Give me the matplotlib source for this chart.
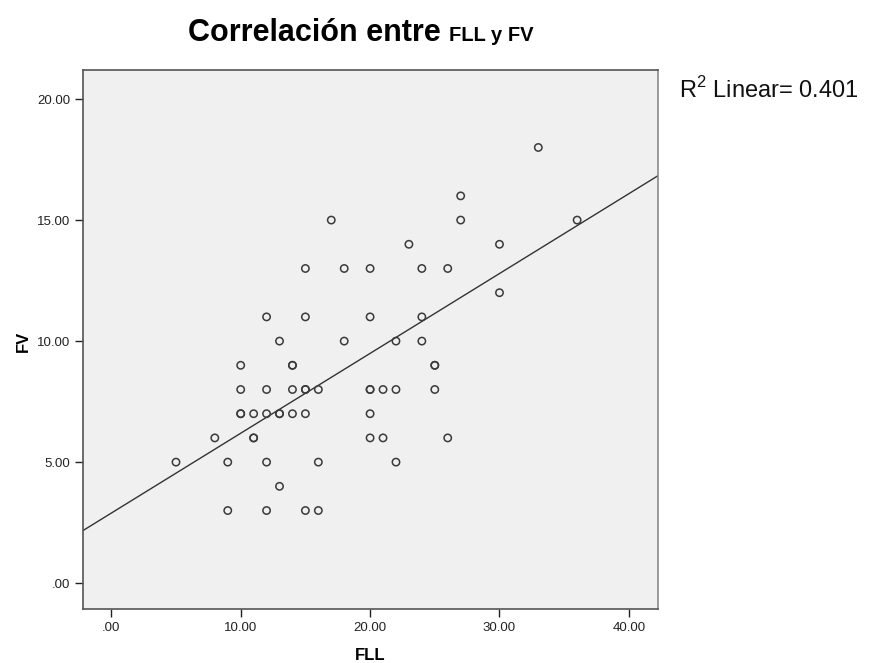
import matplotlib
matplotlib.use('Agg')
import matplotlib.pyplot as plt
import numpy as np

plt.rcParams['font.family'] = ['Liberation Sans', 'DejaVu Sans']
plt.rcParams['mathtext.fontset'] = 'custom'
plt.rcParams['mathtext.rm'] = 'Liberation Sans'

# FLL (x) and FV (y) values, duplicates repeated
fll = [33,
       27,
       17, 27, 36,
       23, 30,
       15, 18, 20, 24, 26,
       30,
       12, 15, 20, 24,
       13, 18, 22, 24,
       10, 14, 14, 25, 25,
       10, 12, 14, 15, 15, 16, 20, 20, 21, 22, 25,
       10, 10, 11, 12, 13, 13, 14, 15, 20,
       8, 11, 11, 20, 21, 26,
       5, 9, 12, 16, 22,
       13,
       9, 12, 15, 16]
fv = [18,
      16,
      15, 15, 15,
      14, 14,
      13, 13, 13, 13, 13,
      12,
      11, 11, 11, 11,
      10, 10, 10, 10,
      9, 9, 9, 9, 9,
      8, 8, 8, 8, 8, 8, 8, 8, 8, 8, 8,
      7, 7, 7, 7, 7, 7, 7, 7, 7,
      6, 6, 6, 6, 6, 6,
      5, 5, 5, 5, 5,
      4,
      3, 3, 3, 3]

xticks = [0, 10, 20, 30, 40]
yticks = [0, 5, 10, 15, 20]
r2_text = r'R$^{\mathrm{2}}$ Linear= 0.401'

def fmt(v):
    s = '%.2f' % v
    return s[1:] if s.startswith('0') else s

W, H = 895, 663
fig = plt.figure(figsize=(W / 100, H / 100), dpi=100)
ax = fig.add_axes([0.0924, 0.0814, 0.6428, 0.813])
ax.set_facecolor('#f0f0f0')

xmin, xmax = -2.21, 42.25
ymin, ymax = -1.07, 21.2

# linear fit line across the whole x range
slope, icpt = np.polyfit(fll, fv, 1)
xs = np.array([xmin, xmax])
ax.plot(xs, icpt + slope * xs, color='#333333', lw=1.0, zorder=2)

ax.scatter(fll, fv, s=28, facecolors='none', edgecolors='#3a3a3a',
           linewidths=1.1, zorder=3)

ax.set_xlim(xmin, xmax)
ax.set_ylim(ymin, ymax)
ax.set_xticks(xticks)
ax.set_xticklabels([fmt(v) for v in xticks])
ax.set_yticks(yticks)
ax.set_yticklabels([fmt(v) for v in yticks])
ax.tick_params(direction='out', length=6, width=1, color='#222222',
               labelsize=9.5, labelcolor='#222222', pad=3)
for sp in ax.spines.values():
    sp.set_color('#555555')
    sp.set_linewidth(1.2)
ax.spines['right'].set_color('#8a8a8a')

# axis titles
fig.text(370 / W, 3 / H, 'FLL', fontsize=12, fontweight='bold',
         ha='center', va='baseline')
fig.text(23 / W, 1 - 341 / H, 'FV', fontsize=12, fontweight='bold',
         rotation=90, ha='center', va='center')

# title in two sizes, centred as one line
ty = 1 - 41 / H
t1 = fig.text(0, ty, 'Correlación entre ', fontsize=22,
              fontweight='bold', ha='left', va='baseline')
t2 = fig.text(0, ty, 'FLL y FV', fontsize=14.5,
              fontweight='bold', ha='left', va='baseline')
fig.canvas.draw()
w1 = t1.get_window_extent().width
w2 = t2.get_window_extent().width
x0 = 361 - (w1 + w2) / 2
t1.set_x(x0 / W)
t2.set_x((x0 + w1) / W)

fig.text(679 / W, 1 - 98 / H, r2_text, fontsize=17, ha='left',
         va='baseline', color='#111111')

fig.savefig('out.png', dpi=100)
